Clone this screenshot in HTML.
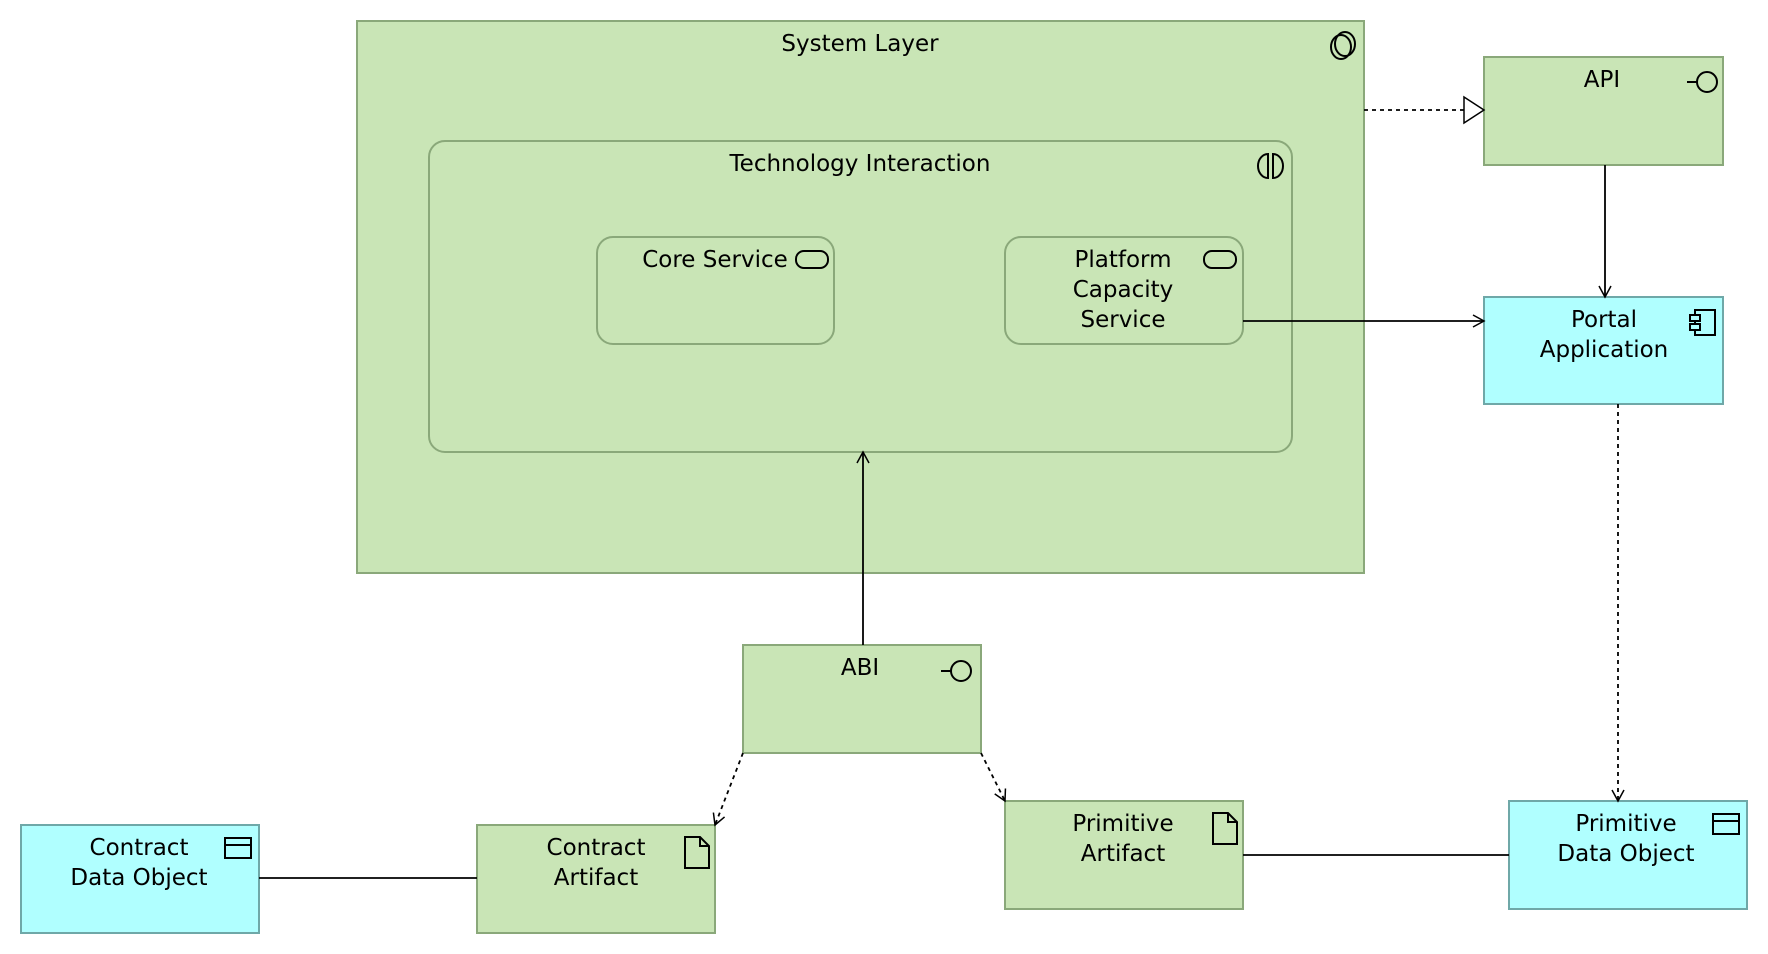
<!DOCTYPE html>
<html><head><meta charset="utf-8"><style>
html,body{margin:0;padding:0;background:#fff;}
svg{display:block;}
text{font-family:"DejaVu Sans","Liberation Sans",sans-serif;font-size:23px;fill:#000;text-anchor:middle;}
</style></head><body>
<svg width="1768" height="954" viewBox="0 0 1768 954" xmlns="http://www.w3.org/2000/svg">
<defs>
<marker id="open" markerWidth="14" markerHeight="14" refX="12" refY="7" orient="auto" markerUnits="userSpaceOnUse">
<path d="M1,1 L12,7 L1,13" fill="none" stroke="#000" stroke-width="1.5"/></marker>
<marker id="tri" markerWidth="24" markerHeight="30" refX="22" refY="15" orient="auto" markerUnits="userSpaceOnUse">
<path d="M2,2 L22,15 L2,28 Z" fill="#fff" stroke="#000" stroke-width="1.5"/></marker>
</defs>
<g stroke-width="2">
<rect x="357" y="21" width="1007" height="552" fill="#c9e5b6" stroke="#8aa87a"/>
<rect x="429" y="141" width="863" height="311" rx="16" fill="#c9e5b6" stroke="#8aa87a"/>
<rect x="597" y="237" width="237" height="107" rx="16" fill="#c9e5b6" stroke="#8aa87a"/>
<rect x="1005" y="237" width="238" height="107" rx="16" fill="#c9e5b6" stroke="#8aa87a"/>
<rect x="1484" y="57" width="239" height="108" fill="#c9e5b6" stroke="#8aa87a"/>
<rect x="1484" y="297" width="239" height="107" fill="#b0ffff" stroke="#6fa8a8"/>
<rect x="743" y="645" width="238" height="108" fill="#c9e5b6" stroke="#8aa87a"/>
<rect x="21" y="825" width="238" height="108" fill="#b0ffff" stroke="#6fa8a8"/>
<rect x="477" y="825" width="238" height="108" fill="#c9e5b6" stroke="#8aa87a"/>
<rect x="1005" y="801" width="238" height="108" fill="#c9e5b6" stroke="#8aa87a"/>
<rect x="1509" y="801" width="238" height="108" fill="#b0ffff" stroke="#6fa8a8"/>
</g>
<g fill="none" stroke="#000" stroke-width="2">
<ellipse cx="1341" cy="47" rx="10" ry="12"/><ellipse cx="1345" cy="44" rx="10" ry="12"/>
<path d="M1268,154 A10,12 0 0 0 1268,178 Z"/><path d="M1273,154 A10,12 0 0 1 1273,178 Z"/>
<rect x="796" y="251" width="32" height="17" rx="8"/>
<rect x="1204" y="251" width="32" height="17" rx="8"/>
<line x1="1687" y1="82" x2="1697" y2="82"/><circle cx="1707" cy="82" r="10"/>
<line x1="941" y1="671" x2="951" y2="671"/><circle cx="961" cy="671" r="10"/>
<rect x="1695" y="310" width="20" height="25"/><rect x="1690" y="315" width="10" height="6" fill="#b0ffff"/><rect x="1690" y="324" width="10" height="6" fill="#b0ffff"/>
<rect x="225" y="838" width="26" height="20"/><line x1="225" y1="845" x2="251" y2="845"/>
<rect x="1713" y="814" width="26" height="20"/><line x1="1713" y1="821" x2="1739" y2="821"/>
<path d="M685,837 h15 l9,9 v22 h-24 Z M700,837 v9 h9"/>
<path d="M1213,813 h15 l9,9 v22 h-24 Z M1228,813 v9 h9"/>
</g>
<g fill="none" stroke="#000" stroke-width="1.8">
<line x1="1364" y1="110" x2="1484" y2="110" stroke-dasharray="4,4" marker-end="url(#tri)"/>
<line x1="1605" y1="165" x2="1605" y2="297" marker-end="url(#open)"/>
<line x1="1243" y1="321" x2="1484" y2="321" marker-end="url(#open)"/>
<line x1="1618" y1="404" x2="1618" y2="801" stroke-dasharray="4,4" marker-end="url(#open)"/>
<line x1="863" y1="645" x2="863" y2="452" marker-end="url(#open)"/>
<line x1="743" y1="753" x2="715" y2="825" stroke-dasharray="4,4" marker-end="url(#open)"/>
<line x1="981" y1="753" x2="1005" y2="801" stroke-dasharray="4,4" marker-end="url(#open)"/>
<line x1="259" y1="878" x2="477" y2="878"/>
<line x1="1243" y1="855" x2="1509" y2="855"/>
</g>
<text x="860" y="51">System Layer</text>
<text x="860" y="171">Technology Interaction</text>
<text x="715" y="267">Core Service</text>
<text x="1123" y="267">Platform</text><text x="1123" y="297">Capacity</text><text x="1123" y="327">Service</text>
<text x="1602" y="87">API</text>
<text x="1604" y="327">Portal</text><text x="1604" y="357">Application</text>
<text x="860" y="675">ABI</text>
<text x="139" y="855">Contract</text><text x="139" y="885">Data Object</text>
<text x="596" y="855">Contract</text><text x="596" y="885">Artifact</text>
<text x="1123" y="831">Primitive</text><text x="1123" y="861">Artifact</text>
<text x="1626" y="831">Primitive</text><text x="1626" y="861">Data Object</text>
</svg>
</body></html>
